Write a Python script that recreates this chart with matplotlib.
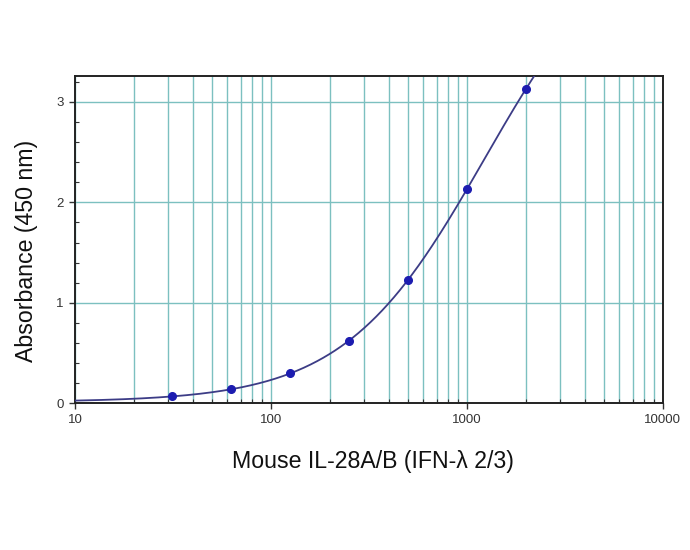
"""Standard curve: mouse IL-28A/B (IFN-lambda 2/3) ELISA, absorbance at 450 nm."""
import numpy as np
import matplotlib.pyplot as plt
from matplotlib.ticker import FixedLocator, NullFormatter

plt.rcParams["font.family"] = ["Liberation Sans", "DejaVu Sans"]

# standards (pg/mL) and mean absorbance
conc = [31.25, 62.5, 125, 250, 500, 1000, 2000]
absorb = [0.067, 0.136, 0.30, 0.618, 1.23, 2.13, 3.13]

x_ticks = [10, 100, 1000, 10000]
x_ticklabels = ["10", "100", "1000", "10000"]
y_ticks = [0, 1, 2, 3]


def four_pl(x, p):
    a, b, c, d = p
    return d + (a - d) / (1.0 + (x / c) ** b)


def fit_4pl(x, y, p0, n_iter=400):
    # small Levenberg-Marquardt, numeric jacobian
    p = np.array(p0, dtype=float)
    lam = 1e-2
    for _ in range(n_iter):
        r = y - four_pl(x, p)
        J = np.empty((len(x), len(p)))
        for i in range(len(p)):
            dp = np.zeros_like(p)
            dp[i] = 1e-6 * max(abs(p[i]), 1e-3)
            J[:, i] = (four_pl(x, p + dp) - four_pl(x, p)) / dp[i]
        A = J.T @ J
        g = J.T @ r
        step = np.linalg.solve(A + lam * np.diag(np.diag(A)), g)
        p_new = p + step
        if p_new[2] > 0 and np.sum((y - four_pl(x, p_new)) ** 2) < np.sum(r ** 2):
            p = p_new
            lam *= 0.5
        else:
            lam *= 4
    return p


def main():
    x = np.array(conc, dtype=float)
    y = np.array(absorb, dtype=float)
    params = fit_4pl(x, y, [0.01, 1.3, 5000.0, 10.0])

    xs = np.logspace(1, 4, 600)
    ys = four_pl(xs, params)

    fig = plt.figure(figsize=(6.9, 5.5), dpi=100)
    ax = fig.add_axes([0.1087, 0.267, 0.852, 0.595])

    ax.set_xscale("log")
    ax.set_xlim(10, 10000)
    ax.set_ylim(0, 3.26)

    grid_c = "#7cc0c0"
    ax.grid(True, which="both", axis="x", color=grid_c, lw=1.0)
    ax.grid(True, which="major", axis="y", color=grid_c, lw=1.0)
    ax.set_axisbelow(True)

    ax.plot(xs, ys, color="#3c3c86", lw=1.3, zorder=3)
    ax.plot(conc, absorb, "o", color="#1c1cb0", ms=5.5, zorder=4)

    ax.xaxis.set_major_locator(FixedLocator(x_ticks))
    ax.set_xticklabels(x_ticklabels)
    ax.xaxis.set_minor_locator(FixedLocator(
        [m * 10 ** e for e in range(1, 4) for m in range(2, 10)]))
    ax.xaxis.set_minor_formatter(NullFormatter())
    ax.set_yticks(y_ticks)
    ax.yaxis.set_minor_locator(FixedLocator(np.arange(0, 3.25, 0.2)))

    ax.tick_params(which="major", direction="out", length=4, width=1.0,
                   labelsize=9.5, colors="#333333", pad=4)
    ax.tick_params(which="minor", direction="in", length=3, width=0.8,
                   colors="#333333")

    for s in ax.spines.values():
        s.set_color("#222222")
        s.set_linewidth(1.4)

    # axis titles sit a little off-centre in the original
    fig.text(0.54, 0.149, "Mouse IL-28A/B (IFN-λ 2/3)", fontsize=16.7,
             ha="center", va="baseline", color="#111111")
    fig.text(0.039, 0.543, "Absorbance (450 nm)", fontsize=16.7,
             rotation=90, ha="center", va="center", color="#111111")

    fig.savefig("out.png", dpi=100)


if __name__ == "__main__":
    main()
